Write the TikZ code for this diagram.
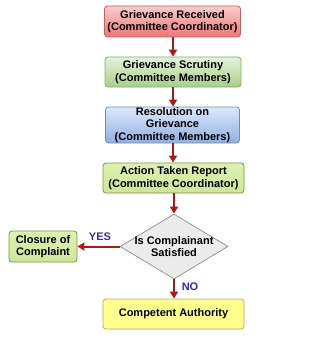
\documentclass[tikz,border=0pt]{standalone}
\usepackage{fontspec}
\setmainfont{Liberation Sans}
\usetikzlibrary{shapes.geometric,arrows.meta}
\definecolor{arr}{RGB}{176,24,24}
\definecolor{lbl}{RGB}{48,40,200}
\tikzset{
  box/.style={rounded corners=3pt, align=center, font=\bfseries\fontsize{11}{12.5}\selectfont, inner sep=0pt, line width=0.8pt},
  redbox/.style={box, top color={rgb,255:red,250;green,204;blue,204}, bottom color={rgb,255:red,236;green,118;blue,118}, draw={rgb,255:red,196;green,96;blue,96}},
  greenbox/.style={box, top color={rgb,255:red,228;green,242;blue,218}, bottom color={rgb,255:red,166;green,208;blue,138}, draw={rgb,255:red,130;green,176;blue,102}},
  bluebox/.style={box, top color={rgb,255:red,220;green,232;blue,250}, bottom color={rgb,255:red,144;green,176;blue,226}, draw={rgb,255:red,108;green,142;blue,191}},
  limebox/.style={box, top color={rgb,255:red,222;green,240;blue,178}, bottom color={rgb,255:red,206;green,230;blue,150}, draw={rgb,255:red,120;green,150;blue,60}},
  yelbox/.style={box, fill={rgb,255:red,255;green,255;blue,140}, draw={rgb,255:red,180;green,168;blue,100}},
  dia/.style={diamond, aspect=1.66, inner xsep=-6pt, inner ysep=-4pt, minimum width=108pt, minimum height=65pt, fill={rgb,255:red,236;green,236;blue,236}, draw={rgb,255:red,150;green,150;blue,150}, line width=0.8pt, align=center, font=\bfseries\fontsize{11}{12.5}\selectfont},
  flow/.style={draw=arr, line width=2pt, -{Triangle[width=8pt,length=7pt]}},
  yn/.style={text=lbl, font=\bfseries\fontsize{11}{12}\selectfont}
}
\begin{document}
\begin{tikzpicture}[x=1pt,y=1pt]
\useasboundingbox (0,0) rectangle (331,-353);
\node[redbox, minimum width=136pt, minimum height=31pt] (a) at (172.5,-21.5) {Grievance Received\\(Committee Coordinator)};
\node[greenbox, minimum width=136pt, minimum height=30pt] (b) at (173,-72) {Grievance Scrutiny\\(Committee Members)};
\node[bluebox, minimum width=134pt, minimum height=36pt] (c) at (172.5,-125) {Resolution on\\Grievance\\(Committee Members)};
\node[limebox, minimum width=141pt, minimum height=30pt] (d) at (173.5,-178) {Action Taken Report\\(Committee Coordinator)};
\node[dia] (q) at (174,-246.5) {Is Complainant\\Satisfied};
\node[limebox, minimum width=68pt, minimum height=31pt] (e) at (43,-246.5) {Closure of\\Complaint};
\node[yelbox, minimum width=141pt, minimum height=30pt] (f) at (173.5,-314) {Competent Authority};
\draw[flow] (a.south -| 173,0) -- (b.north -| 173,0);
\draw[flow] (b.south -| 173,0) -- (c.north -| 173,0);
\draw[flow] (c.south -| 173,0) -- (d.north -| 173,0);
\draw[flow] (d.south -| 174,0) -- (q.north);
\draw[flow] (q.west) -- (e.east);
\draw[flow] (q.south) -- (f.north -| q.south);
\node[yn] (yes) at (100,-236.5) {YES};
\node[yn] (no) at (190,-287) {NO};
\end{tikzpicture}
\end{document}
